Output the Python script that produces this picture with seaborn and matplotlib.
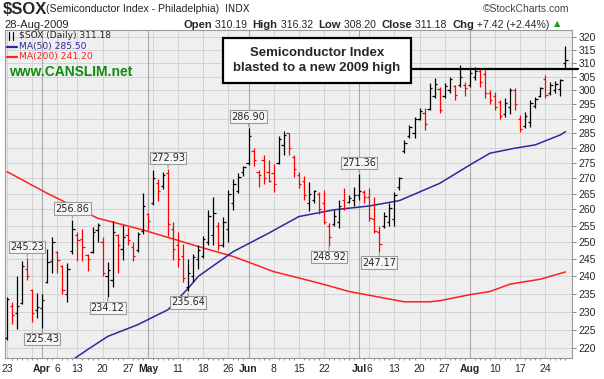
import pandas as pd
import matplotlib
matplotlib.use('Agg')
import matplotlib.pyplot as plt
import matplotlib.ticker as mticker
from matplotlib.patches import Rectangle
from matplotlib.lines import Line2D
import seaborn as sns

# trading days 23-Mar-2009 .. 28-Aug-2009
dates = pd.bdate_range('2009-03-23', '2009-08-28')
dates = dates.drop(pd.to_datetime(['2009-04-10', '2009-05-25', '2009-07-03']))

opens = [222.8, 231.6, 229.5, 232.5, 242.2, 236.0, 230.5, 231.0, 238.2, 244.5,
         247.0, 242.8, 235.0, 247.3, 252.0, 251.0, 246.3, 247.0, 253.7, 250.0,
         240.0, 239.0, 252.0, 248.0, 252.0, 248.5, 247.5, 253.5, 258.5, 262.0,
         268.5, 267.5, 271.5, 254.0, 249.0, 246.0, 237.0, 240.0, 245.0, 246.0,
         250.0, 252.0, 255.0, 249.0, 254.0, 262.0, 266.0, 272.0, 275.0, 279.0,
         272.0, 276.0, 272.0, 271.5, 275.0, 281.0, 285.0, 277.0, 271.0, 269.0,
         262.0, 263.0, 265.0, 262.0, 255.0, 255.5, 256.0, 263.0, 262.5, 263.0,
         264.5, 265.5, 264.0, 257.0, 253.0, 255.0, 256.0, 257.0, 267.0, 279.0,
         284.0, 285.0, 290.0, 292.0, 293.5, 298.0, 300.5, 298.0, 300.0, 301.5,
         302.0, 302.0, 302.0, 305.0, 307.0, 306.0, 299.0, 298.0, 296.0, 291.5,
         294.0, 300.0, 290.0, 287.5, 289.0, 294.5, 298.0, 304.0, 299.0, 300.0,
         300.5, 310.19]
highs = [234.0, 232.6, 240.0, 244.5, 245.23, 236.3, 235.1, 234.8, 247.8, 251.5,
         247.3, 243.1, 243.9, 256.86, 253.0, 254.0, 246.4, 254.7, 255.8, 251.6,
         244.1, 256.5, 252.6, 255.3, 254.7, 250.1, 253.1, 265.2, 259.0, 272.5,
         269.6, 272.0, 272.93, 256.2, 253.2, 249.4, 245.1, 246.6, 249.0, 251.9,
         259.9, 264.0, 256.2, 257.7, 266.1, 269.7, 271.8, 274.0, 286.90, 280.0,
         272.7, 277.6, 276.0, 274.5, 284.0, 285.7, 285.2, 277.7, 271.9, 270.8,
         268.7, 266.2, 265.6, 266.2, 255.9, 259.9, 263.1, 266.7, 264.5, 267.2,
         271.36, 266.2, 266.7, 264.0, 254.8, 259.2, 262.1, 265.6, 270.4, 282.7,
         287.8, 290.7, 293.6, 293.9, 302.6, 304.4, 301.4, 302.6, 304.9, 302.0,
         309.3, 303.2, 308.1, 308.7, 308.1, 307.5, 300.2, 299.6, 296.6, 297.2,
         300.8, 300.8, 291.3, 292.4, 296.6, 297.8, 301.4, 305.6, 303.2, 303.5,
         304.0, 316.32]
lows = [222.3, 226.5, 225.2, 232.0, 238.9, 227.0, 228.2, 225.43, 237.9, 241.0,
        240.8, 234.8, 232.6, 246.6, 244.3, 244.5, 241.6, 246.7, 250.1, 240.0,
        234.12, 237.0, 240.9, 244.7, 249.0, 244.4, 247.2, 252.6, 253.7, 261.4,
        262.6, 266.5, 251.9, 244.7, 242.6, 238.4, 235.64, 238.4, 242.0, 245.3,
        249.0, 249.0, 247.5, 248.5, 250.0, 259.9, 265.2, 270.8, 274.3, 274.0,
        267.0, 268.2, 268.7, 265.6, 274.6, 277.7, 277.7, 270.4, 266.7, 263.1,
        259.5, 262.1, 258.5, 255.4, 248.92, 254.8, 254.3, 259.9, 262.1, 261.0,
        263.1, 262.1, 256.3, 252.7, 247.17, 254.3, 254.8, 254.8, 266.2, 278.2,
        283.3, 283.3, 289.5, 286.1, 293.1, 297.2, 291.9, 297.2, 299.0, 296.6,
        301.4, 298.0, 301.4, 303.8, 301.4, 297.2, 295.1, 293.1, 289.8, 290.7,
        291.6, 293.1, 285.5, 286.7, 287.2, 293.6, 297.8, 297.2, 298.4, 299.0,
        298.0, 308.20]
closes = [233.5, 229.0, 231.4, 243.0, 240.0, 229.7, 231.3, 233.1, 244.2, 250.0,
          244.7, 236.0, 242.2, 254.0, 250.6, 248.5, 245.0, 253.0, 255.3, 241.0,
          241.8, 253.0, 249.0, 251.5, 250.5, 246.0, 252.5, 261.0, 256.5, 270.0,
          266.0, 271.0, 255.5, 248.0, 245.0, 239.5, 241.0, 245.5, 247.5, 251.0,
          258.0, 259.0, 249.0, 256.0, 265.0, 268.0, 270.5, 273.5, 284.0, 276.0,
          271.0, 270.0, 269.0, 268.0, 283.0, 284.5, 280.0, 273.0, 268.0, 264.5,
          264.8, 265.8, 260.0, 256.0, 251.5, 258.0, 261.0, 260.5, 263.5, 264.5,
          266.0, 264.0, 257.5, 253.5, 249.5, 258.0, 260.5, 264.5, 270.0, 281.5,
          287.0, 290.0, 292.5, 288.0, 301.0, 302.5, 293.0, 301.5, 304.0, 298.5,
          305.0, 301.0, 306.5, 307.0, 303.0, 299.0, 296.5, 294.0, 291.0, 295.5,
          300.0, 295.0, 286.5, 291.0, 295.5, 297.0, 301.0, 298.5, 302.0, 302.5,
          303.76, 311.18]

# moving averages (bar index, value)
ma50_x = [13, 16, 20, 26, 32, 36, 38, 45, 52, 58, 65, 72, 78, 86, 92, 96, 101, 105, 110, 111]
ma50_y = [217.0, 219.7, 223.2, 226.4, 230.5, 236.5, 239.9, 247.2, 252.7, 257.8,
          259.9, 261.1, 262.8, 268.3, 274.3, 278.2, 279.9, 281.0, 284.4, 285.5]
ma200_x = [0, 8, 18, 27, 38, 45, 53, 62, 68, 74, 79, 84, 86, 92, 96, 100, 106, 111]
ma200_y = [272.1, 265.1, 257.3, 253.7, 248.7, 245.7, 241.3, 238.0, 235.6, 234.0,
           232.7, 232.7, 233.0, 234.7, 235.6, 237.7, 239.1, 241.2]

# labelled turning points
tag_dates = ['2009-03-27', '2009-04-01', '2009-04-09', '2009-04-21', '2009-05-07',
             '2009-05-13', '2009-06-01', '2009-06-23', '2009-07-01', '2009-07-08']
tag_side = ['H', 'L', 'H', 'L', 'H', 'L', 'H', 'L', 'H', 'L']

week_dates = ['2009-03-23', '2009-04-06', '2009-04-13', '2009-04-20', '2009-04-27',
              '2009-05-11', '2009-05-18', '2009-05-26', '2009-06-08', '2009-06-15',
              '2009-06-22', '2009-07-06', '2009-07-13', '2009-07-20', '2009-07-27',
              '2009-08-10', '2009-08-17', '2009-08-24']
month_dates = ['2009-04-01', '2009-05-01', '2009-06-01', '2009-07-01', '2009-08-03']
month_names = ['Apr', 'May', 'Jun', 'Jul', 'Aug']
yticks = list(range(220, 325, 5))

df = pd.DataFrame({'date': dates, 'open': opens, 'high': highs, 'low': lows, 'close': closes})
df['i'] = range(len(df))
df['up'] = df['close'] >= df['close'].shift(1).fillna(0)
ma50 = pd.DataFrame({'i': ma50_x, 'v': ma50_y})
ma200 = pd.DataFrame({'i': ma200_x, 'v': ma200_y})


def idx(d):
    return dates.get_loc(pd.Timestamp(d))


sns.set_style('white')
plt.rcParams['font.family'] = ['Liberation Sans', 'DejaVu Sans']

W, H = 604, 379
fig = plt.figure(figsize=(W / 100, H / 100), dpi=100)


def fx(x):
    return x / W


def fy(y):
    return 1 - y / H


ax = fig.add_axes([fx(5), fy(358), fx(572) - fx(5), fy(30) - fy(358)])
ax.set_facecolor('#efefef')
ax.set_yscale('log')
ax.set_xlim(-0.4, 112.3)
ax.set_ylim(217.5, 322.6)

# grid
for v in yticks:
    ax.axhline(v, color='#d4d4d4', lw=0.7, zorder=0)
weeks = df.groupby(df['date'].dt.to_period('W'))['i'].min().values
for w in weeks:
    ax.axvline(w, color='#d4d4d4', lw=0.7, zorder=0)
for d in month_dates:
    ax.axvline(idx(d), color='#a8a8a8', lw=0.8, zorder=0)

# OHLC bars
for up, sub in df.groupby('up'):
    c = 'black' if up else '#ff0000'
    ax.vlines(sub['i'], sub['low'], sub['high'], color=c, lw=0.9, zorder=3)
    ax.hlines(sub['open'], sub['i'] - 0.45, sub['i'], color=c, lw=0.9, zorder=3)
    ax.hlines(sub['close'], sub['i'], sub['i'] + 0.45, color=c, lw=0.9, zorder=3)

sns.lineplot(data=ma200, x='i', y='v', color='#ff2020', lw=1.1, ax=ax, zorder=2)
sns.lineplot(data=ma50, x='i', y='v', color='#2a2aa0', lw=1.1, ax=ax, zorder=2)

# value tags
for d, s in zip(tag_dates, tag_side):
    i = idx(d)
    v = df.loc[i, 'high'] if s == 'H' else df.loc[i, 'low']
    off = 11 if s == 'H' else -11
    ax.annotate(f'{v:.2f}', xy=(i, v), xytext=(0, off), textcoords='offset pixels',
                ha='center', va='center', fontsize=7, family='DejaVu Sans',
                bbox=dict(boxstyle='square,pad=0.12', fc='#f6f6f6', ec='#9a9a9a', lw=0.8),
                arrowprops=dict(arrowstyle='-', color='#9a9a9a', lw=0.8, shrinkA=0, shrinkB=1),
                zorder=5)

# axes styling
ax.yaxis.tick_right()
ax.yaxis.set_major_locator(mticker.FixedLocator(yticks))
ax.yaxis.set_major_formatter(mticker.FixedFormatter([str(v) for v in yticks]))
ax.yaxis.set_minor_locator(mticker.NullLocator())
ax.tick_params(axis='y', which='major', right=True, length=3, width=0.7, color='#888888',
               pad=1.5, labelsize=7.5)
pos = [idx(d) for d in week_dates] + [idx(d) for d in month_dates]
labs = [str(pd.Timestamp(d).day) for d in week_dates] + month_names
ax.set_xticks(pos)
ax.set_xticklabels(labs)
for t in ax.get_xticklabels():
    if t.get_text() in month_names:
        t.set_fontweight('bold')
        t.set_fontsize(8.5)
ax.set_xticks(range(len(df)), minor=True)
ax.tick_params(axis='x', which='major', length=0, pad=4, labelsize=7.5)
ax.tick_params(axis='x', which='minor', bottom=True, length=1.5, width=0.6, color='#777777')
ax.set_xlabel('')
ax.set_ylabel('')
for sp in ax.spines.values():
    sp.set_color('#999999')
    sp.set_linewidth(0.8)

# breakout line and note box
ax.plot([80.3, 113.4], [307.8, 307.8], color='black', lw=1.6, clip_on=False, zorder=6)
fig.patches.append(Rectangle((fx(223), fy(83)), fx(411) - fx(223), fy(38) - fy(83),
                             transform=fig.transFigure, fc='white', ec='black', lw=1.6, zorder=7))
fig.text(fx(317), fy(53), 'Semiconductor Index', ha='center', va='center',
         fontsize=9.5, fontweight='bold', zorder=8)
fig.text(fx(317), fy(67.5), 'blasted to a new 2009 high', ha='center', va='center',
         fontsize=9.5, fontweight='bold', zorder=8)

# legend inside plot
fig.add_artist(Line2D([fx(9), fx(9)], [fy(31.5), fy(39.5)], color='black', lw=0.8))
fig.add_artist(Line2D([fx(13), fx(13)], [fy(31.5), fy(39.5)], color='black', lw=0.8))
fig.text(fx(19), fy(35.5), '$SOX (Daily) 311.18', fontsize=6.6, family='DejaVu Sans', va='center')
fig.add_artist(Line2D([fx(7), fx(17)], [fy(47), fy(47)], color='#2a2aa0', lw=1.6))
fig.text(fx(19), fy(47), 'MA(50) 285.50', fontsize=6.6, family='DejaVu Sans', va='center',
         color='#2a2aa0')
fig.add_artist(Line2D([fx(7), fx(17)], [fy(57), fy(57)], color='#ff2020', lw=1.6))
fig.text(fx(19), fy(57), 'MA(200) 241.20', fontsize=6.6, family='DejaVu Sans', va='center',
         color='#ff2020')
fig.text(fx(9), fy(72), 'www.CANSLIM.net', fontsize=10, fontweight='bold', va='center',
         color='#138a13')

renderer = fig.canvas.get_renderer()

# header
fig.text(fx(3), fy(9), '$SOX', fontsize=12, fontweight='bold', va='center')
t = fig.text(fx(46), fy(9.5), '(Semiconductor Index - Philadelphia)', fontsize=7.6, va='center')
x_end = 46 + t.get_window_extent(renderer).width
fig.text(fx(x_end + 6), fy(9.5), 'INDX', fontsize=7, va='center', family='DejaVu Sans')
fig.text(fx(569), fy(9.5), '\u00a9StockCharts.com', fontsize=7.5, va='center', ha='right',
         color='#444444')
fig.text(fx(4), fy(25), '28-Aug-2009', fontsize=8, va='center')

pieces = [('Open', True), (' 310.19  ', False), ('High', True), (' 316.32  ', False),
          ('Low', True), (' 308.20  ', False), ('Close', True), (' 311.18  ', False),
          ('Chg', True), (' +7.42 (+2.44%)', False)]
x = 183
for txt, b in pieces:
    t = fig.text(fx(x), fy(25), txt, fontsize=8.1 if b else 7.6, va='center',
                 fontweight='bold' if b else 'normal')
    x += t.get_window_extent(renderer).width
last = t.get_window_extent(renderer).x1
fig.text(fx(last + 4), fy(24), '\u25b2', fontsize=6, va='center', color='#1aa01a',
         family='DejaVu Sans')

fig.savefig('out.png', dpi=100)
